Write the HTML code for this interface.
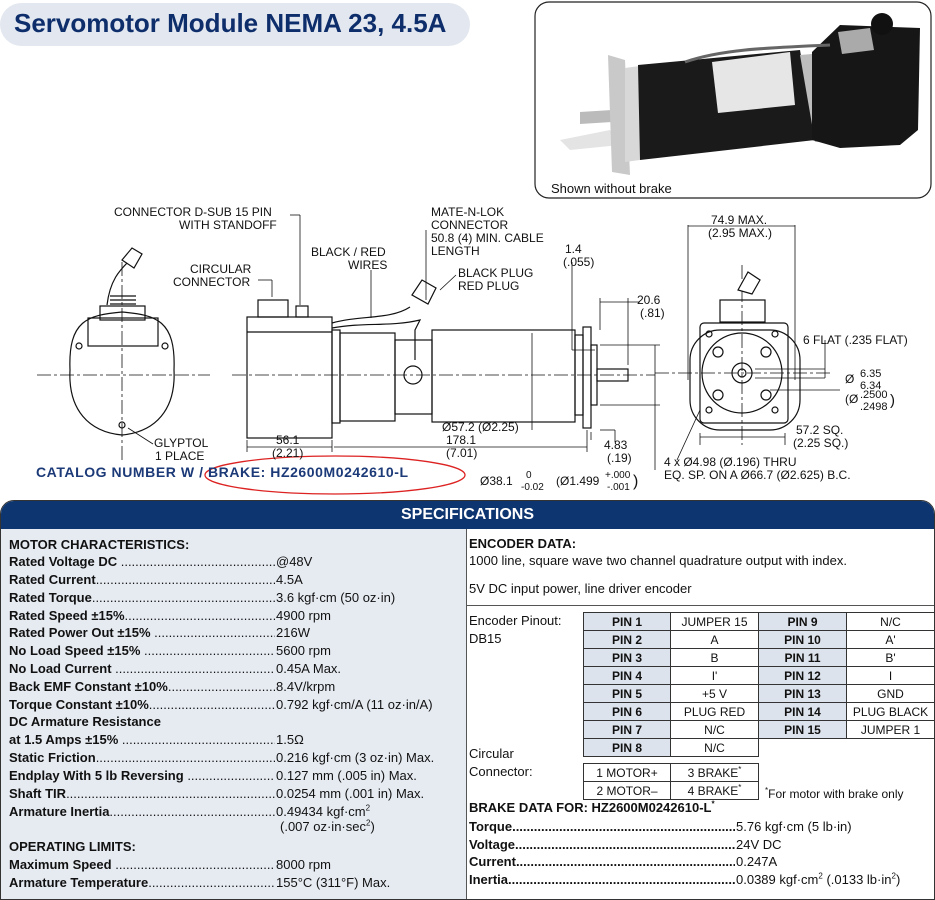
<!DOCTYPE html>
<html><head><meta charset="utf-8"><style>
body{margin:0;width:935px;height:900px;background:#fff;position:relative;overflow:hidden;font-family:"Liberation Sans",sans-serif;color:#111}
.a{position:absolute;white-space:nowrap}
.l{position:absolute;left:9px;width:266px;overflow:hidden;white-space:nowrap;font-size:13px;line-height:16px}
.l b{font-weight:bold}
.v{position:absolute;left:276px;font-size:13px;line-height:16px;white-space:nowrap}
.h{position:absolute;left:9px;font-size:13px;font-weight:bold;line-height:16px}
table{border-collapse:collapse;position:absolute;font-size:12px}
td{border:1px solid #333;height:17px;padding:0;text-align:center;line-height:16px}
td.p{background:#dde3ec;font-weight:bold}
.r{position:absolute;left:469px;font-size:13px;line-height:16px;white-space:nowrap}
.bl{position:absolute;left:469px;width:266px;overflow:hidden;white-space:nowrap;font-size:13px;font-weight:bold;line-height:16px}
.bv{position:absolute;left:736px;font-size:13px;line-height:16px;white-space:nowrap}
sup{font-size:8px;line-height:0}
</style></head><body>
<div class="a" style="left:0;top:3px;width:470px;height:43px;background:#e3e8f0;border-radius:22px"></div>
<div class="a" style="left:14px;top:8px;font-size:26px;font-weight:bold;color:#0d2d6b">Servomotor Module NEMA 23, 4.5A</div>
<svg class="a" style="left:0;top:0" width="935" height="500" font-family="Liberation Sans" font-size="12" fill="none" stroke="#111" stroke-width="1.2">
<rect x="535" y="2" width="396" height="196" rx="14" stroke="#222" fill="#fff"/>
<!-- photo motor -->
<g stroke="none">
<polygon points="560,140 610,130 620,145 570,150" fill="#e4e4e4"/>
<polygon points="580,112 612,110 612,122 580,124" fill="#bbb"/>
<polygon points="608,55 625,60 630,175 612,172" fill="#c9c9c9"/>
<polygon points="625,68 640,66 640,160 625,162" fill="#d8d8d8"/>
<polygon points="638,65 800,50 815,140 640,160" fill="#1a1a1a"/>
<polygon points="712,62 790,52 795,105 718,113" fill="#e6e6e6"/>
<polygon points="800,55 835,52 840,140 815,142" fill="#bdbdbd"/>
<polygon points="812,52 840,25 920,28 918,130 900,145 840,148 812,140" fill="#161616"/>
<polygon points="838,32 870,28 874,50 842,54" fill="#aaa"/>
<circle cx="882" cy="24" r="11" fill="#111"/>
</g>
<path d="M685,62 C720,50 760,48 830,45" stroke="#666" stroke-width="3"/>
<text x="551" y="193" fill="#111" stroke="none" font-size="13">Shown without brake</text>
<!-- centerlines -->
<g stroke-dasharray="14,3,3,3" stroke-width="0.8">
<line x1="37" y1="375" x2="210" y2="375"/><line x1="122" y1="262" x2="122" y2="460"/>
<line x1="232" y1="375" x2="655" y2="375"/>
<line x1="655" y1="373" x2="830" y2="373"/><line x1="742" y1="265" x2="742" y2="445"/>
</g>
<!-- left end view -->
<path d="M70,370 C68,320 88,315 122,312 C156,315 176,320 174,370 C176,410 155,432 122,435 C89,432 68,410 70,370Z"/>
<rect x="88" y="318" width="70" height="28"/><rect x="100" y="306" width="45" height="14"/>
<path d="M107,305 C110,280 120,270 128,262"/><path d="M122,260 l10,-12 10,6 -8,14z" fill="#fff"/>
<path d="M110,296 h26 M110,300 h26 M110,304 h26"/>
<circle cx="79" cy="346" r="3"/><circle cx="165" cy="346" r="3"/><circle cx="122" cy="425" r="3"/>
<!-- side view -->
<rect x="247" y="317" width="85" height="121"/><line x1="247" y1="332" x2="332" y2="332"/>
<rect x="258" y="300" width="30" height="17"/><rect x="296" y="306" width="12" height="11"/>
<rect x="332" y="330" width="8" height="93"/><rect x="340" y="333" width="55" height="88"/>
<rect x="395" y="340" width="37" height="74"/><rect x="432" y="330" width="143" height="92"/>
<rect x="575" y="335" width="8" height="80"/><rect x="583" y="327" width="8" height="101"/>
<rect x="591" y="345" width="6" height="60"/><rect x="597" y="369" width="31" height="12"/>
<path d="M332,323 C360,315 390,320 410,307"/><path d="M332,328 C365,322 390,327 420,320 L415,330 415,360"/>
<circle cx="413" cy="375" r="9"/><path d="M412,295 l10,-15 14,8 -8,16z" fill="#fff"/>
<!-- right end view -->
<rect x="700" y="323" width="88" height="100" rx="4"/><rect x="690" y="330" width="110" height="100" rx="30"/>
<circle cx="742" cy="373" r="40"/><circle cx="742" cy="373" r="10"/><circle cx="742" cy="373" r="4"/>
<circle cx="718" cy="352" r="5"/><circle cx="766" cy="352" r="5"/><circle cx="718" cy="395" r="5"/><circle cx="766" cy="395" r="5"/>
<circle cx="709" cy="334" r="3"/><circle cx="775" cy="334" r="3"/><circle cx="709" cy="410" r="3"/><circle cx="775" cy="410" r="3"/>
<rect x="720" y="300" width="45" height="22"/><path d="M738,290 l10,-18 12,8 -8,14z" fill="#fff"/>
<!-- dimension lines -->
<g stroke-width="0.8">
<line x1="247" y1="440" x2="247" y2="452"/><line x1="332" y1="440" x2="332" y2="452"/><line x1="247" y1="447" x2="332" y2="447"/>
<line x1="334" y1="447" x2="587" y2="447"/><line x1="587" y1="430" x2="587" y2="452"/>
<line x1="532" y1="333" x2="532" y2="421"/><line x1="532" y1="421" x2="532" y2="430"/>
<line x1="655" y1="345" x2="655" y2="470"/><line x1="600" y1="345" x2="660" y2="345"/><line x1="600" y1="405" x2="660" y2="405"/>
<line x1="600" y1="298" x2="600" y2="330"/><line x1="628" y1="298" x2="628" y2="365"/><line x1="600" y1="302" x2="640" y2="302"/>
<line x1="572" y1="262" x2="572" y2="350"/><line x1="572" y1="350" x2="595" y2="350"/>
<line x1="591" y1="432" x2="591" y2="440"/><line x1="600" y1="430" x2="615" y2="430"/><line x1="615" y1="430" x2="615" y2="442"/>
<line x1="688" y1="225" x2="688" y2="380"/><line x1="795" y1="225" x2="795" y2="380"/><line x1="688" y1="226" x2="795" y2="226"/>
<line x1="700" y1="433" x2="700" y2="445"/><line x1="785" y1="433" x2="785" y2="445"/><line x1="700" y1="437" x2="785" y2="437"/>
<line x1="755" y1="369" x2="825" y2="369"/><line x1="755" y1="378" x2="825" y2="378"/><line x1="825" y1="340" x2="825" y2="378"/>
<line x1="770" y1="390" x2="840" y2="390"/>
<line x1="700" y1="410" x2="677" y2="460"/>
<line x1="290" y1="215" x2="300" y2="215"/><line x1="300" y1="215" x2="300" y2="305"/>
<line x1="258" y1="280" x2="272" y2="280"/><line x1="272" y1="280" x2="272" y2="297"/>
<line x1="371" y1="270" x2="371" y2="318"/>
<line x1="426" y1="230" x2="426" y2="300"/>
<line x1="456" y1="275" x2="440" y2="290"/>
<line x1="153" y1="444" x2="128" y2="428"/>
</g>
<ellipse cx="335" cy="475" rx="130" ry="19" stroke="#d22" stroke-width="1.3"/>
<g fill="#111" stroke="none" font-size="12">
<text x="114" y="216">CONNECTOR D-SUB 15 PIN</text><text x="179" y="229">WITH STANDOFF</text>
<text x="190" y="273">CIRCULAR</text><text x="173" y="286">CONNECTOR</text>
<text x="311" y="256">BLACK / RED</text><text x="348" y="269">WIRES</text>
<text x="431" y="216">MATE-N-LOK</text><text x="431" y="229">CONNECTOR</text><text x="431" y="242">50.8 (4) MIN. CABLE</text><text x="431" y="255">LENGTH</text>
<text x="458" y="277">BLACK PLUG</text><text x="458" y="290">RED PLUG</text>
<text x="565" y="253">1.4</text><text x="563" y="266">(.055)</text>
<text x="637" y="304">20.6</text><text x="640" y="317">(.81)</text>
<text x="154" y="447">GLYPTOL</text><text x="155" y="460">1 PLACE</text>
<text x="276" y="444">56.1</text><text x="272" y="457">(2.21)</text>
<text x="442" y="431">Ø57.2 (Ø2.25)</text>
<text x="446" y="444">178.1</text><text x="446" y="457">(7.01)</text>
<text x="604" y="449">4.83</text><text x="607" y="462">(.19)</text>
<text x="480" y="485">Ø38.1</text><text x="526" y="478" font-size="10">0</text><text x="521" y="490" font-size="10">-0.02</text>
<text x="556" y="485">(Ø1.499</text><text x="605" y="478" font-size="10">+.000</text><text x="607" y="490" font-size="10">-.001</text><text x="633" y="486" font-size="16">)</text>
<text x="711" y="224">74.9 MAX.</text><text x="708" y="237">(2.95 MAX.)</text>
<text x="803" y="344">6 FLAT (.235 FLAT)</text>
<text x="845" y="383">Ø</text><text x="860" y="377" font-size="11">6.35</text><text x="860" y="389" font-size="11">6.34</text>
<text x="845" y="403">(Ø</text><text x="860" y="398" font-size="11">.2500</text><text x="860" y="410" font-size="11">.2498</text><text x="890" y="405" font-size="15">)</text>
<text x="796" y="434">57.2 SQ.</text><text x="793" y="447">(2.25 SQ.)</text>
<text x="664" y="466">4 x Ø4.98 (Ø.196) THRU</text><text x="664" y="479">EQ. SP. ON A Ø66.7 (Ø2.625) B.C.</text>
<text x="36" y="477" fill="#1c3a78" font-weight="bold" font-size="14" textLength="372">CATALOG NUMBER W / BRAKE:  HZ2600M0242610-L</text>
</g>
</svg>
<!-- specifications panel -->
<div class="a" style="left:0;top:500px;width:933px;height:398px;border:1px solid #333;border-radius:14px 14px 0 0;overflow:hidden">
<div class="a" style="left:0;top:0;width:933px;height:28px;background:#0d3570;color:#fff;font-weight:bold;font-size:16px;text-align:center;line-height:28px">SPECIFICATIONS</div>
<div class="a" style="left:0;top:28px;width:465px;height:370px;background:#e6ebf2;border-right:1px solid #555"></div>
<div class="a" style="left:466px;top:104px;width:467px;border-top:1px solid #555"></div>
</div>
<div class="h" style="top:537px">MOTOR CHARACTERISTICS:</div>
<div class="l" style="top:554px"><b>Rated Voltage DC</b> ..................................................................</div><div class="v" style="top:554px">@48V</div>
<div class="l" style="top:572px"><b>Rated Current</b>..................................................................</div><div class="v" style="top:572px">4.5A</div>
<div class="l" style="top:590px"><b>Rated Torque</b>..................................................................</div><div class="v" style="top:590px">3.6 kgf·cm (50 oz·in)</div>
<div class="l" style="top:608px"><b>Rated Speed ±15%</b>..................................................................</div><div class="v" style="top:608px">4900 rpm</div>
<div class="l" style="top:625px"><b>Rated Power Out ±15%</b> ..................................................................</div><div class="v" style="top:625px">216W</div>
<div class="l" style="top:643px"><b>No Load Speed ±15%</b> ..................................................................</div><div class="v" style="top:643px">5600 rpm</div>
<div class="l" style="top:661px"><b>No Load Current</b> ..................................................................</div><div class="v" style="top:661px">0.45A Max.</div>
<div class="l" style="top:679px"><b>Back EMF Constant ±10%</b>..................................................................</div><div class="v" style="top:679px">8.4V/krpm</div>
<div class="l" style="top:697px"><b>Torque Constant ±10%</b>..................................................................</div><div class="v" style="top:697px">0.792 kgf·cm/A (11 oz·in/A)</div>
<div class="h" style="top:714px">DC Armature Resistance</div>
<div class="l" style="top:732px"><b>at 1.5 Amps ±15%</b> ..................................................................</div><div class="v" style="top:732px">1.5Ω</div>
<div class="l" style="top:750px"><b>Static Friction</b>..................................................................</div><div class="v" style="top:750px">0.216 kgf·cm (3 oz·in) Max.</div>
<div class="l" style="top:768px"><b>Endplay With 5 lb Reversing</b> ..................................................................</div><div class="v" style="top:768px">0.127 mm (.005 in) Max.</div>
<div class="l" style="top:786px"><b>Shaft TIR</b>..................................................................</div><div class="v" style="top:786px">0.0254 mm (.001 in) Max.</div>
<div class="l" style="top:804px"><b>Armature Inertia</b>..................................................................</div><div class="v" style="top:804px">0.49434 kgf·cm<sup>2</sup></div>
<div class="v" style="top:819px;left:280px">(.007 oz·in·sec<sup>2</sup>)</div>
<div class="h" style="top:839px">OPERATING LIMITS:</div>
<div class="l" style="top:857px"><b>Maximum Speed</b> ..................................................................</div><div class="v" style="top:857px">8000 rpm</div>
<div class="l" style="top:875px"><b>Armature Temperature</b>..................................................................</div><div class="v" style="top:875px">155°C (311°F) Max.</div>
<div class="r" style="top:536px;font-weight:bold">ENCODER DATA:</div>
<div class="r" style="top:553px">1000 line, square wave two channel quadrature output with index.</div>
<div class="r" style="top:581px">5V DC input power, line driver encoder</div>
<div class="r" style="top:613px">Encoder Pinout:</div>
<div class="r" style="top:631px">DB15</div>
<div class="r" style="top:746px">Circular</div>
<div class="r" style="top:764px">Connector:</div>
<table style="left:583px;top:612px">
<tr><td class="p" style="width:86px">PIN 1</td><td style="width:87px">JUMPER 15</td><td class="p" style="width:87px">PIN 9</td><td style="width:87px">N/C</td></tr>
<tr><td class="p">PIN 2</td><td>A</td><td class="p">PIN 10</td><td>A'</td></tr>
<tr><td class="p">PIN 3</td><td>B</td><td class="p">PIN 11</td><td>B'</td></tr>
<tr><td class="p">PIN 4</td><td>I'</td><td class="p">PIN 12</td><td>I</td></tr>
<tr><td class="p">PIN 5</td><td>+5 V</td><td class="p">PIN 13</td><td>GND</td></tr>
<tr><td class="p">PIN 6</td><td>PLUG RED</td><td class="p">PIN 14</td><td>PLUG BLACK</td></tr>
<tr><td class="p">PIN 7</td><td>N/C</td><td class="p">PIN 15</td><td>JUMPER 1</td></tr>
<tr><td class="p">PIN 8</td><td>N/C</td><td style="border:none"></td><td style="border:none"></td></tr>
</table>
<table style="left:583px;top:763px">
<tr><td style="width:86px">1 MOTOR+</td><td style="width:87px">3 BRAKE<sup>*</sup></td></tr>
<tr><td>2 MOTOR–</td><td>4 BRAKE<sup>*</sup></td></tr>
</table>
<div class="a" style="left:765px;top:787px;font-size:12px"><sup>*</sup>For motor with brake only</div>
<div class="r" style="top:800px;font-weight:bold">BRAKE DATA FOR: HZ2600M0242610-L<sup>*</sup></div>
<div class="bl" style="top:819px">Torque..................................................................................</div><div class="bv" style="top:819px">5.76 kgf·cm (5 lb·in)</div>
<div class="bl" style="top:837px">Voltage..................................................................................</div><div class="bv" style="top:837px">24V DC</div>
<div class="bl" style="top:854px">Current..................................................................................</div><div class="bv" style="top:854px">0.247A</div>
<div class="bl" style="top:872px">Inertia..................................................................................</div><div class="bv" style="top:872px">0.0389 kgf·cm<sup>2</sup> (.0133 lb·in<sup>2</sup>)</div>
</body></html>
